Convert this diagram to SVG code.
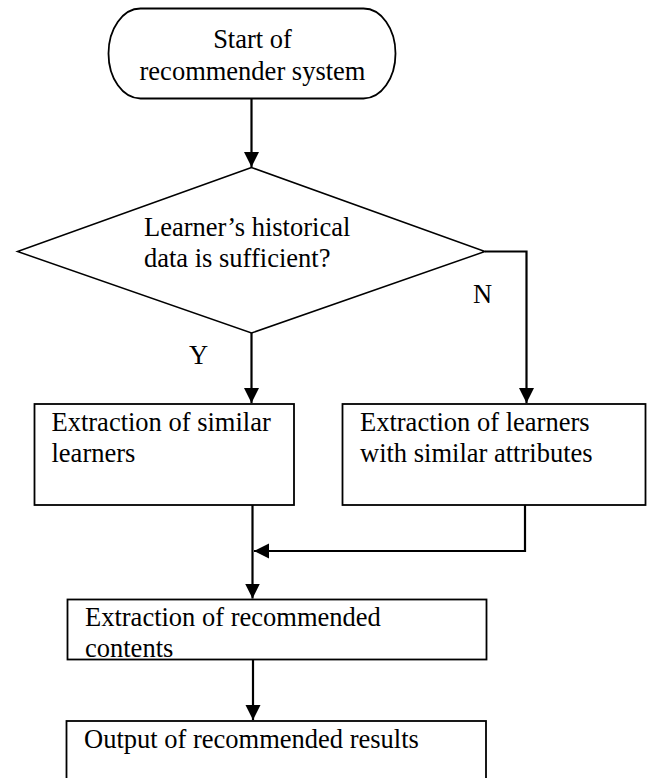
<svg xmlns="http://www.w3.org/2000/svg" width="648" height="778" viewBox="0 0 648 778">
<style>
  .shape { fill: #ffffff; stroke: #000000; stroke-width: 1.8; }
  .dia { fill: #ffffff; stroke: #000000; stroke-width: 1.5; }
  .lbl { font-family: 'Liberation Serif', 'Times New Roman', 'DejaVu Serif', serif; font-size: 26.5px; fill: #000000; }
  .mid { text-anchor: middle; }
  .conn { fill: none; stroke: #000000; stroke-width: 2.2; marker-end: url(#arrow); }
</style>
<defs>
  <marker id="arrow" markerUnits="userSpaceOnUse" markerWidth="16" markerHeight="16" refX="15" refY="7.5" orient="auto" viewBox="0 0 16 16">
    <path d="M0,0 L15,7.5 L0,15 Z" fill="#000000"/>
  </marker>
</defs>
<rect width="648" height="778" fill="#ffffff"/>

<g id="connectors">
  <path class="conn" d="M251.5,98.5 V167"/>
  <path class="conn" d="M251.5,333 V403"/>
  <path class="conn" d="M485,251.5 H526.5 V403"/>
  <path class="conn" d="M252.5,505 V598.5"/>
  <path class="conn" d="M525,505 V551 H254"/>
  <path class="conn" d="M253,660 V720"/>
  <text class="lbl" x="473" y="303">N</text>
  <text class="lbl" x="189" y="364">Y</text>
</g>

<g id="start">
  <rect class="shape" x="108.5" y="8.5" width="287" height="90" rx="32" ry="45"/>
  <text class="lbl mid" x="252.5" y="48">Start of</text>
  <text class="lbl mid" x="252.5" y="80">recommender system</text>
</g>

<g id="decision">
  <polygon class="dia" points="251.5,167.5 17.5,251.5 251.5,333 485,251.5"/>
  <text class="lbl" x="144" y="236">Learner’s historical</text>
  <text class="lbl" x="144" y="267">data is sufficient?</text>
</g>

<g id="similar-learners">
  <rect class="shape" x="34.5" y="404" width="259.5" height="101"/>
  <text class="lbl" x="51.5" y="431">Extraction of similar</text>
  <text class="lbl" x="51.5" y="462">learners</text>
</g>

<g id="similar-attributes">
  <rect class="shape" x="342.5" y="404" width="303" height="101"/>
  <text class="lbl" x="360" y="431">Extraction of learners</text>
  <text class="lbl" x="360" y="462">with similar attributes</text>
</g>

<g id="recommended-contents">
  <rect class="shape" x="67.5" y="599.5" width="419" height="60"/>
  <text class="lbl" x="85" y="626">Extraction of recommended</text>
  <text class="lbl" x="85" y="657">contents</text>
</g>

<g id="output-results">
  <rect class="shape" x="66.5" y="721" width="419.5" height="80"/>
  <text class="lbl" x="84" y="748">Output of recommended results</text>
</g>
</svg>
